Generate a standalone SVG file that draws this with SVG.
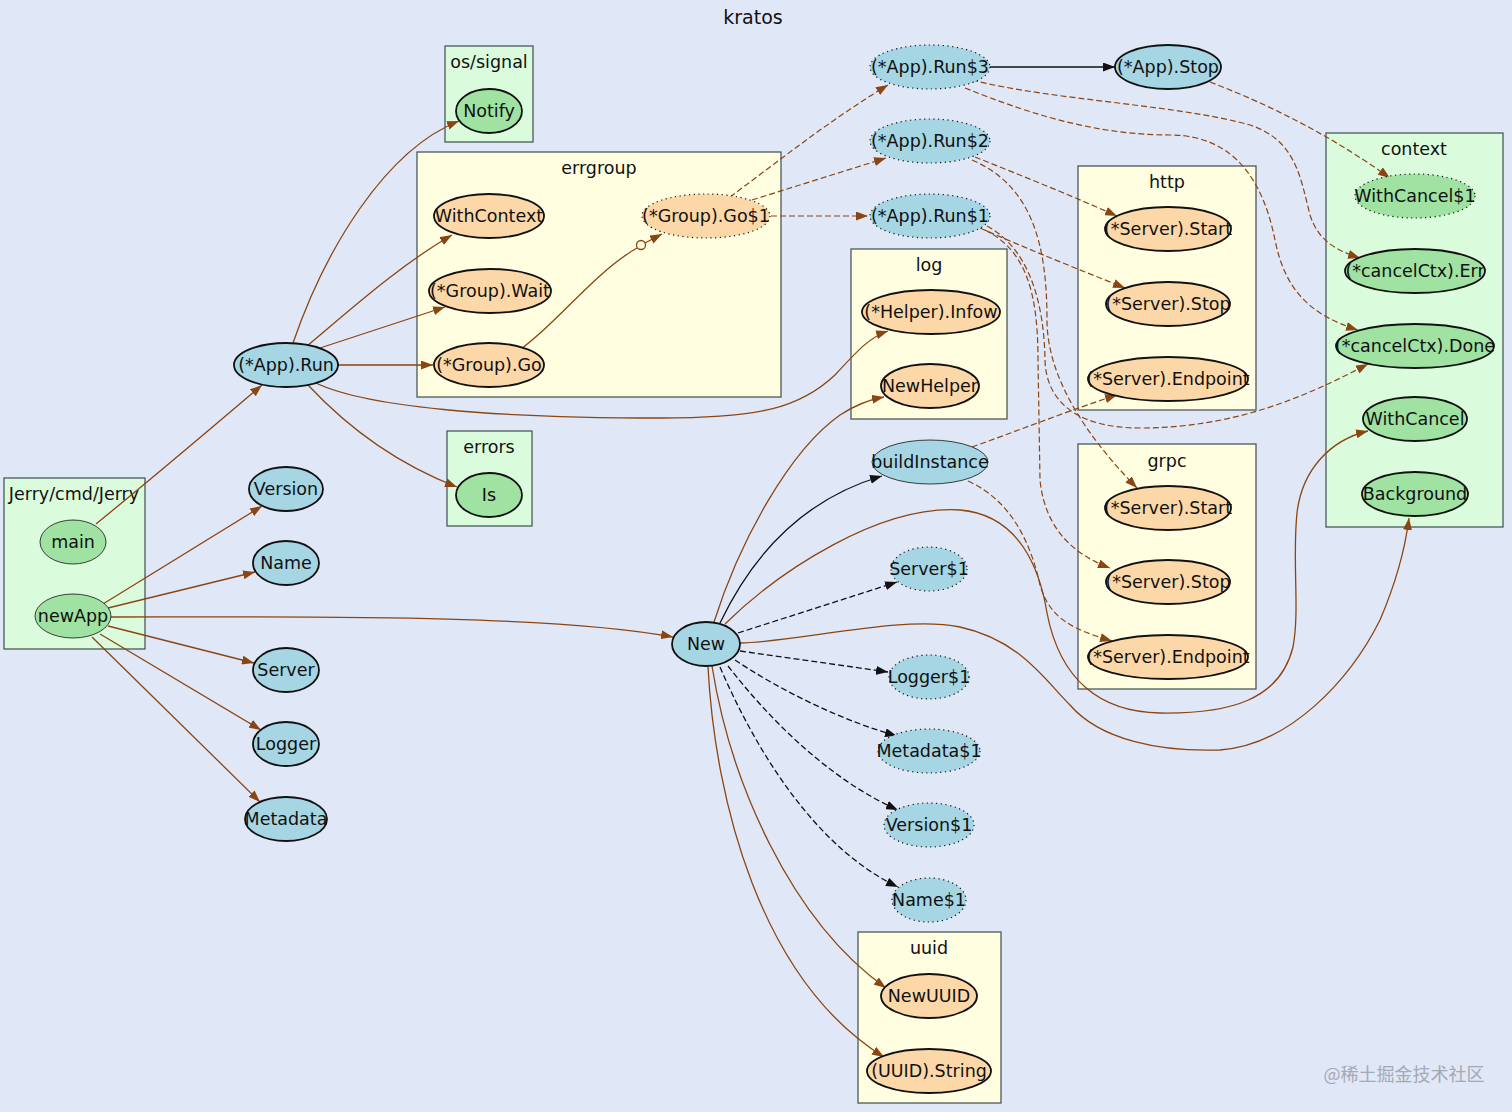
<svg xmlns="http://www.w3.org/2000/svg" width="1512" height="1112" viewBox="0 0 1512 1112">
<style>
text{font-family:"DejaVu Sans","Liberation Sans",sans-serif;font-size:17.5px;fill:#111;text-anchor:middle;dominant-baseline:central}
.cg{fill:#dbfcdc;stroke:#4a5a5a;stroke-width:1.3}
.cy{fill:#fffee0;stroke:#4a5a5a;stroke-width:1.3}
.nb{fill:#a6d5e3;stroke:#111;stroke-width:1.8}
.ng{fill:#9fe2a1;stroke:#111;stroke-width:1.8}
.no{fill:#fcd8a8;stroke:#111;stroke-width:1.8}
.thin{stroke-width:0.8}
.dot{stroke-width:1.2;stroke-dasharray:1.2,3.5}
.e{fill:none;stroke:#8b4513;stroke-width:1.3}
.ed{fill:none;stroke:#8b4513;stroke-width:1.2;stroke-dasharray:6,3}
.k{fill:none;stroke:#111;stroke-width:1.3}
.kd{fill:none;stroke:#111;stroke-width:1.3;stroke-dasharray:6,3}
.br{marker-end:url(#ab)}
.bk{marker-end:url(#ak)}
</style>
<defs>
<marker id="ab" viewBox="0 0 10 10" refX="10" refY="5" markerWidth="12" markerHeight="9" markerUnits="userSpaceOnUse" orient="auto" preserveAspectRatio="none"><path d="M0,0 L10,5 L0,10z" fill="#8b4513"/></marker>
<marker id="ak" viewBox="0 0 10 10" refX="10" refY="5" markerWidth="12" markerHeight="9" markerUnits="userSpaceOnUse" orient="auto" preserveAspectRatio="none"><path d="M0,0 L10,5 L0,10z" fill="#111"/></marker>
</defs>
<rect width="1512" height="1112" fill="#e0e7f6"/>
<text x="753" y="17" style="font-size:19px">kratos</text>

<g id="clusters">
<g id="c-osignal"><rect class="cg" x="445" y="46" width="88" height="96"/><text x="489" y="62">os/signal</text></g>
<g id="c-errgroup"><rect class="cy" x="417" y="152" width="364" height="245"/><text x="599" y="168">errgroup</text></g>
<g id="c-errors"><rect class="cg" x="447" y="431" width="85" height="95"/><text x="489" y="447">errors</text></g>
<g id="c-jerry"><rect class="cg" x="4" y="478" width="141" height="171"/><text x="74" y="494">Jerry/cmd/Jerry</text></g>
<g id="c-log"><rect class="cy" x="851" y="249" width="156" height="170"/><text x="929" y="265">log</text></g>
<g id="c-http"><rect class="cy" x="1078" y="166" width="178" height="244"/><text x="1167" y="182">http</text></g>
<g id="c-grpc"><rect class="cy" x="1078" y="444" width="178" height="245"/><text x="1167" y="461">grpc</text></g>
<g id="c-context"><rect class="cg" x="1326" y="133" width="177" height="394"/><text x="1414" y="149">context</text></g>
<g id="c-uuid"><rect class="cy" x="858" y="932" width="143" height="171"/><text x="929" y="948">uuid</text></g>
</g>

<g id="connectors">
<path class="e br" d="M96,524 C150,480 215,425 262,385"/>
<path class="e br" d="M293,343 C325,250 385,150 459,121"/>
<path class="e br" d="M307,346 C350,310 400,265 452,235"/>
<path class="e br" d="M317,349 L445,307"/>
<path class="e br" d="M338,365 L433,365"/>
<path class="e br" d="M310,380 C360,408 500,418 660,418 C760,418 800,408 835,375 C858,350 870,337 888,331"/>
<path class="e br" d="M308,385 C350,430 400,465 457,487"/>
<path class="e" d="M522,348 C555,325 595,272 637,248"/>
<circle cx="641" cy="245" r="4.5" fill="none" stroke="#8b4513" stroke-width="1.3"/>
<path class="e br" d="M645,243 L662,234"/>
<path class="ed br" d="M730,197 C780,160 830,120 888,85"/>
<path class="ed br" d="M752,200 L886,158"/>
<path class="ed br" d="M771,216 L868,216"/>
<path class="k bk" d="M990,67 L1115,67"/>
<path class="ed br" d="M1210,82 C1270,105 1330,135 1390,178"/>
<path class="ed br" d="M972,80 C1050,100 1180,105 1250,125 C1295,140 1300,175 1310,215 C1318,240 1335,250 1360,258"/>
<path class="ed br" d="M965,88 C1020,110 1090,135 1170,135 C1240,135 1265,190 1275,240 C1285,290 1310,315 1358,330"/>
<path class="ed br" d="M975,157 C1020,175 1070,195 1117,216"/>
<path class="ed br" d="M972,160 C1030,185 1047,240 1047,320 C1047,380 1090,440 1137,488"/>
<path class="ed br" d="M980,228 C1030,250 1080,270 1125,288"/>
<path class="ed br" d="M985,230 C1025,250 1038,290 1038,360 L1040,480 C1045,530 1075,555 1110,568"/>
<path class="ed br" d="M987,226 C1028,248 1044,300 1045,360 C1046,400 1075,428 1140,428 C1230,428 1300,400 1368,364"/>
<path class="ed br" d="M972,447 C1020,430 1070,410 1117,395"/>
<path class="ed br" d="M968,481 C1010,500 1030,540 1040,585 C1050,620 1075,630 1112,641"/>
<path class="e br" d="M714,622 C740,540 790,450 840,415 C855,405 868,400 884,397"/>
<path class="k bk" d="M720,623 C750,560 800,500 882,476"/>
<path class="e br" d="M725,624 C780,570 880,505 960,510 C1020,515 1040,570 1047,613 C1060,680 1100,712 1160,713 C1230,714 1280,700 1293,647 C1300,610 1292,560 1297,513 C1302,470 1330,440 1368,431"/>
<path class="e br" d="M740,643 C800,642 900,615 960,627 C1020,640 1045,680 1070,705 C1100,740 1160,752 1220,750 C1290,745 1350,680 1380,620 C1395,585 1405,550 1409,518"/>
<path class="kd bk" d="M738,633 L897,582"/>
<path class="kd bk" d="M740,651 L888,672"/>
<path class="kd bk" d="M735,660 C780,690 840,720 897,736"/>
<path class="kd bk" d="M728,666 C770,720 830,780 898,810"/>
<path class="kd bk" d="M720,667 C760,760 820,850 898,887"/>
<path class="e br" d="M712,666 C730,780 790,920 886,988"/>
<path class="e br" d="M708,667 C715,800 760,980 884,1057"/>
<path class="e br" d="M111,617 C300,617 550,614 673,637"/>
<path class="e br" d="M103,604 L262,506"/>
<path class="e br" d="M108,608 L255,572"/>
<path class="e br" d="M108,626 L254,663"/>
<path class="e br" d="M100,634 L261,730"/>
<path class="e br" d="M92,637 L260,802"/>
</g>

<g id="n-notify"><ellipse class="ng" cx="489" cy="111" rx="33" ry="22"/><text x="489" y="111">Notify</text></g>
<g id="n-withcontext"><ellipse class="no" cx="489" cy="216" rx="55" ry="22"/><text x="489" y="216">WithContext</text></g>
<g id="n-wait"><ellipse class="no" cx="490" cy="291" rx="61" ry="22"/><text x="490" y="291">(*Group).Wait</text></g>
<g id="n-go"><ellipse class="no" cx="489" cy="365" rx="55" ry="22"/><text x="489" y="365">(*Group).Go</text></g>
<g id="n-go1"><ellipse class="no dot" cx="706" cy="216" rx="64" ry="22"/><text x="706" y="216">(*Group).Go$1</text></g>
<g id="n-is"><ellipse class="ng" cx="489" cy="495" rx="33" ry="22"/><text x="489" y="495">Is</text></g>
<g id="n-main"><ellipse class="ng thin" cx="73" cy="542" rx="33" ry="22"/><text x="73" y="542">main</text></g>
<g id="n-newapp"><ellipse class="ng thin" cx="73" cy="616" rx="38" ry="22"/><text x="73" y="616">newApp</text></g>
<g id="n-apprun"><ellipse class="nb" cx="286" cy="365" rx="52" ry="22"/><text x="286" y="365">(*App).Run</text></g>
<g id="n-version"><ellipse class="nb" cx="286" cy="489" rx="37" ry="22"/><text x="286" y="489">Version</text></g>
<g id="n-name"><ellipse class="nb" cx="286" cy="563" rx="33" ry="22"/><text x="286" y="563">Name</text></g>
<g id="n-server"><ellipse class="nb" cx="286" cy="670" rx="33" ry="22"/><text x="286" y="670">Server</text></g>
<g id="n-logger"><ellipse class="nb" cx="286" cy="744" rx="33" ry="22"/><text x="286" y="744">Logger</text></g>
<g id="n-metadata"><ellipse class="nb" cx="286" cy="819" rx="41" ry="22"/><text x="286" y="819">Metadata</text></g>
<g id="n-run3"><ellipse class="nb dot" cx="930" cy="67" rx="60" ry="22"/><text x="930" y="67">(*App).Run$3</text></g>
<g id="n-run2"><ellipse class="nb dot" cx="930" cy="141" rx="60" ry="22"/><text x="930" y="141">(*App).Run$2</text></g>
<g id="n-run1"><ellipse class="nb dot" cx="930" cy="216" rx="60" ry="22"/><text x="930" y="216">(*App).Run$1</text></g>
<g id="n-appstop"><ellipse class="nb" cx="1168" cy="67" rx="53" ry="22"/><text x="1168" y="67">(*App).Stop</text></g>
<g id="n-infow"><ellipse class="no" cx="931" cy="312" rx="69" ry="22"/><text x="931" y="312">(*Helper).Infow</text></g>
<g id="n-newhelper"><ellipse class="no" cx="930" cy="386" rx="49" ry="22"/><text x="930" y="386">NewHelper</text></g>
<g id="n-buildinstance"><ellipse class="nb thin" cx="930" cy="462" rx="58" ry="22"/><text x="930" y="462">buildInstance</text></g>
<g id="n-http-start"><ellipse class="no" cx="1168" cy="229" rx="63" ry="22"/><text x="1168" y="229">(*Server).Start</text></g>
<g id="n-http-stop"><ellipse class="no" cx="1168" cy="304" rx="62" ry="22"/><text x="1168" y="304">(*Server).Stop</text></g>
<g id="n-http-endpoint"><ellipse class="no" cx="1168" cy="379" rx="80" ry="22"/><text x="1168" y="379">(*Server).Endpoint</text></g>
<g id="n-grpc-start"><ellipse class="no" cx="1168" cy="508" rx="63" ry="22"/><text x="1168" y="508">(*Server).Start</text></g>
<g id="n-grpc-stop"><ellipse class="no" cx="1168" cy="582" rx="62" ry="22"/><text x="1168" y="582">(*Server).Stop</text></g>
<g id="n-grpc-endpoint"><ellipse class="no" cx="1168" cy="657" rx="80" ry="22"/><text x="1168" y="657">(*Server).Endpoint</text></g>
<g id="n-withcancel1"><ellipse class="ng dot" cx="1415" cy="196" rx="60" ry="22"/><text x="1415" y="196">WithCancel$1</text></g>
<g id="n-err"><ellipse class="ng" cx="1415" cy="271" rx="70" ry="22"/><text x="1415" y="271">(*cancelCtx).Err</text></g>
<g id="n-done"><ellipse class="ng" cx="1415" cy="346" rx="79" ry="22"/><text x="1415" y="346">(*cancelCtx).Done</text></g>
<g id="n-withcancel"><ellipse class="ng" cx="1415" cy="419" rx="52" ry="22"/><text x="1415" y="419">WithCancel</text></g>
<g id="n-background"><ellipse class="ng" cx="1415" cy="494" rx="53" ry="22"/><text x="1415" y="494">Background</text></g>
<g id="n-new"><ellipse class="nb" cx="706" cy="644" rx="34" ry="22"/><text x="706" y="644">New</text></g>
<g id="n-server1"><ellipse class="nb dot" cx="929" cy="569" rx="38" ry="22"/><text x="929" y="569">Server$1</text></g>
<g id="n-logger1"><ellipse class="nb dot" cx="929" cy="677" rx="40" ry="22"/><text x="929" y="677">Logger$1</text></g>
<g id="n-metadata1"><ellipse class="nb dot" cx="929" cy="751" rx="51" ry="22"/><text x="929" y="751">Metadata$1</text></g>
<g id="n-version1"><ellipse class="nb dot" cx="929" cy="825" rx="45" ry="22"/><text x="929" y="825">Version$1</text></g>
<g id="n-name1"><ellipse class="nb dot" cx="929" cy="900" rx="37" ry="22"/><text x="929" y="900">Name$1</text></g>
<g id="n-newuuid"><ellipse class="no" cx="929" cy="996" rx="48" ry="22"/><text x="929" y="996">NewUUID</text></g>
<g id="n-uuidstring"><ellipse class="no" cx="929" cy="1071" rx="62" ry="22"/><text x="929" y="1071">(UUID).String</text></g>

<text x="1404" y="1073" style="font-family:'Noto Sans CJK SC',sans-serif;font-size:18px;fill:#a4a9b4">@稀土掘金技术社区</text>
</svg>
